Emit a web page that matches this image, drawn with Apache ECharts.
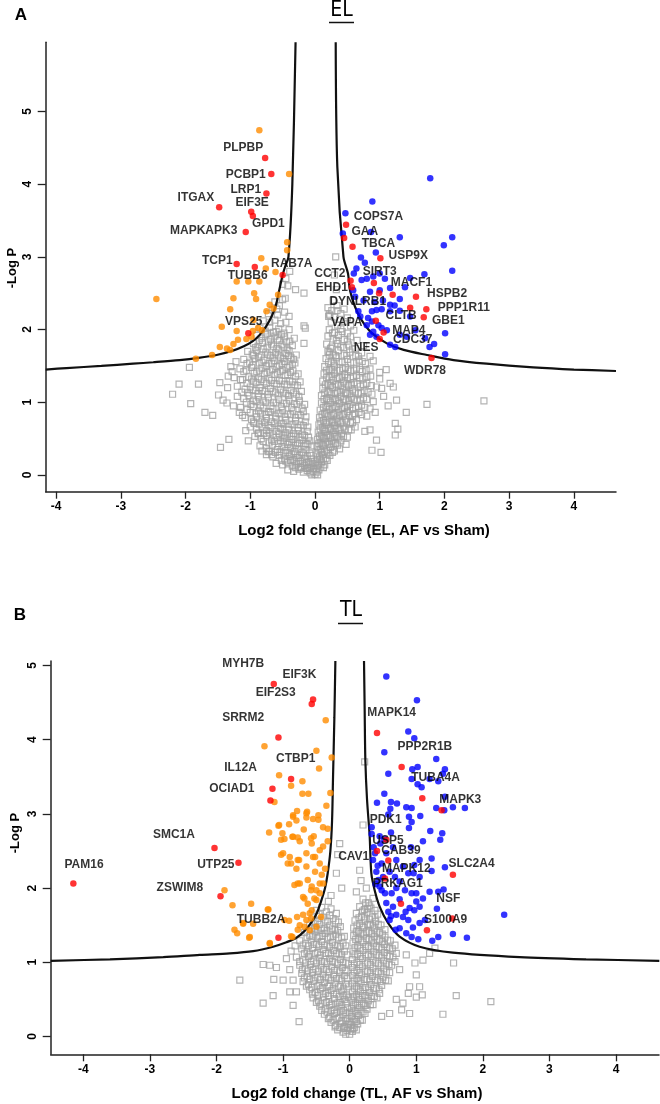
<!DOCTYPE html>
<html><head><meta charset="utf-8">
<script src="https://cdn.jsdelivr.net/npm/echarts@6/dist/echarts.min.js"></script>
<style>html,body{margin:0;padding:0;background:#fff}#c{width:660px;height:1104px}</style>
</head><body><div id="c"></div><script>
// ---------- tick labels ----------
const xTicks = [-4,-3,-2,-1,0,1,2,3,4];
const yTicksTop = [0,1,2,3,4,5];
const yTicksBottom = [0,1,2,3,4,5];

// ---------- panel A (EL) ----------
const elCurveLeft = [[-4.16,1.45],[-3.84,1.47],[-3.3,1.5],[-2.81,1.53],[-2.5,1.55],[-2.09,1.58],[-1.8,1.61],[-1.52,1.65],[-1.27,1.71],[-1.1,1.77],[-0.96,1.84],[-0.85,1.93],[-0.75,2.05],[-0.66,2.2],[-0.6,2.35],[-0.55,2.55],[-0.5,2.75],[-0.46,2.87],[-0.41,3.0],[-0.35,4.0],[-0.30,5.95]];
const elCurveRight = [[0.32,5.95],[0.345,4.24],[0.44,3.0],[0.51,2.77],[0.54,2.54],[0.62,2.31],[0.72,2.13],[0.88,1.95],[1.11,1.81],[1.37,1.72],[1.73,1.65],[2.14,1.58],[2.65,1.53],[3.37,1.48],[4.0,1.45],[4.65,1.43]];
const elOrange = [[-0.86,4.74],[-0.40,4.14],[-0.43,3.20],[-0.43,3.09],[-0.83,2.98],[-0.76,2.84],[-0.61,2.79],[-1.21,2.66],[-1.03,2.66],[-0.86,2.66],[-0.57,2.48],[-0.94,2.50],[-0.91,2.42],[-1.26,2.43],[-2.45,2.42],[-1.31,2.28],[-0.70,2.34],[-0.75,2.25],[-0.64,2.29],[-0.95,2.13],[-1.44,2.04],[-1.21,1.98],[-0.96,1.98],[-1.06,1.87],[-1.19,1.86],[-1.26,1.80],[-1.47,1.76],[-1.36,1.74],[-1.31,1.72],[-1.59,1.65],[-1.84,1.60],[-0.82,1.99],[-0.88,2.02],[-0.98,1.90]];
const elRed = [[-0.77,4.36],[-0.675,4.14],[-0.75,3.87],[-1.48,3.68],[-0.985,3.62],[-0.96,3.56],[-1.07,3.34],[-1.21,2.90],[-0.93,2.86],[-0.50,2.75],[-1.03,1.95],
[0.48,3.44],[0.45,3.26],[0.58,3.14],[1.01,2.98],[0.55,2.67],[0.57,2.58],[0.91,2.64],[0.99,2.50],[1.20,2.48],[1.56,2.45],[1.72,2.28],[1.47,2.30],[1.68,2.17],[0.94,2.12],[1.06,1.96],[1.00,1.87],[1.80,1.61]];
const elBlue = [[1.78,4.08],[0.886,3.76],[0.47,3.60],[0.43,3.32],[0.865,3.34],[1.31,3.27],[2.12,3.27],[1.99,3.16],[0.94,3.06],[0.71,2.99],[0.77,2.92],[2.12,2.81],[1.69,2.76],[1.47,2.71],[0.64,2.84],[0.60,2.77],[0.80,2.70],[0.72,2.68],[0.90,2.73],[1.00,2.77],[1.08,2.70],[1.39,2.58],[1.16,2.57],[0.85,2.52],[1.00,2.54],[1.31,2.42],[1.16,2.34],[1.23,2.33],[1.03,2.28],[0.95,2.27],[0.88,2.25],[1.31,2.26],[1.16,2.25],[0.82,2.16],[0.88,2.11],[0.80,2.06],[0.98,2.06],[1.03,2.02],[1.11,1.99],[0.90,1.97],[0.85,1.93],[0.95,1.90],[1.31,1.93],[1.42,1.90],[1.55,1.99],[2.01,1.95],[1.70,1.88],[1.84,1.80],[1.77,1.76],[1.16,1.79],[1.24,1.76],[2.01,1.66],[0.67,2.25],[0.59,2.54],[1.47,2.18],[0.75,2.40],[1.05,2.40],[0.92,2.38],[0.70,2.18],[0.62,2.45]];
const elGray = [
[-1.94,1.48],[-2.10,1.25],[-1.80,1.25],[-2.20,1.11],[-1.92,0.98],[-1.70,0.86],[-1.58,0.82],[-1.46,0.38],[-1.33,0.49],[-1.49,1.10],[-1.47,1.27],[-1.34,1.36],[-1.42,1.03],[-1.36,0.99],[-1.26,0.95],[-1.17,0.86],[-1.12,0.82],[-1.03,0.47],[-1.07,0.61],[-0.95,0.73],[-0.88,0.57],[-0.82,0.33],[-0.72,0.32],[-0.67,0.28],[-1.22,1.56],[-1.28,1.42],[-1.15,1.31],
[2.61,1.02],[1.73,0.97],[1.13,0.95],[1.41,0.86],[1.24,0.71],[1.28,0.63],[1.24,0.55],[1.02,0.31],[0.88,0.34],[1.21,1.21],[1.26,1.03],[0.93,0.86],[0.85,0.62],[0.95,0.48],[0.77,0.60],[1.16,1.26],[1.06,1.08],[1.03,1.19],[1.1,1.45],[1.0,1.32],
[-0.17,2.50],[-0.17,2.05],[-0.17,1.81],[0.21,2.18],[0.34,2.26],[0.32,3.00],[0.23,2.19],[-0.15,2.02],[0.22,1.69],[-0.59,2.28],[0.30,2.75],[0.33,2.55],[0.28,2.4],[-0.45,2.7],[-0.5,2.62],[-0.42,2.6],[-0.3,2.55],[-0.39,2.80],[-0.46,2.43],
[-0.62,2.38],[-0.55,2.33],[-0.5,2.41],[-0.66,2.27],[-0.72,2.22],[-0.58,2.2],[-0.47,2.24],[-0.4,2.18],
[-0.8,2.12],[-0.7,2.1],[-0.62,2.13],[-0.53,2.08],[-0.45,2.1],
[-0.85,2.02],[-0.77,1.98],[-0.7,2.03],[-0.64,1.96],[-0.56,2.01],[-0.48,1.95],[-0.4,2.0],
[-0.9,1.92],[-0.83,1.88],[-0.76,1.93],[-0.69,1.86],[-0.62,1.91],[-0.55,1.85],[-0.47,1.9],[-0.39,1.84],[-0.32,1.88],
[-0.95,1.81],[-0.88,1.77],[-0.81,1.82],[-0.74,1.76],[-0.67,1.8],[-0.59,1.74],[-0.51,1.79],[-0.43,1.73],[-0.35,1.78],
[-1.04,1.7],[-0.97,1.66],[-0.9,1.71],[-0.83,1.65],[-0.76,1.69],[-0.69,1.64],[-0.61,1.68],[-0.53,1.62],[-0.45,1.67],[-0.37,1.61],[-0.29,1.65],
[-1.1,1.59],[-1.01,1.55],[-0.93,1.6],[-0.86,1.54],[-0.79,1.58],[-0.71,1.53],[-0.63,1.57],[-0.55,1.51],[-0.47,1.56],[-0.39,1.5],[-0.31,1.54],
[-1.3,1.49],[-1.16,1.46],[-1.06,1.44],[-0.98,1.48],[-0.9,1.42],[-0.82,1.47],[-0.74,1.41],[-0.66,1.45],[-0.58,1.4],[-0.5,1.44],[-0.42,1.38],[-0.34,1.43],[-0.26,1.39],
[-1.25,1.34],[-1.12,1.31],[-1.02,1.35],[-0.95,1.29],[-0.87,1.33],[-0.79,1.28],[-0.71,1.32],[-0.63,1.26],[-0.55,1.3],[-0.47,1.25],[-0.39,1.29],[-0.31,1.24],[-0.23,1.28],
[-1.35,1.2],[-1.2,1.22],[-1.08,1.18],[-1.0,1.21],[-0.92,1.16],[-0.85,1.2],[-0.77,1.15],[-0.69,1.19],[-0.61,1.13],[-0.53,1.17],[-0.45,1.12],[-0.37,1.16],[-0.29,1.11],[-0.21,1.15],
[-1.2,1.08],[-1.1,1.05],[-1.02,1.09],[-0.95,1.03],[-0.87,1.07],[-0.8,1.02],[-0.72,1.06],[-0.64,1.0],[-0.56,1.04],[-0.48,0.99],[-0.4,1.03],[-0.32,0.98],[-0.24,1.02],[-0.16,0.97],
[-1.15,0.93],[-1.05,0.9],[-0.95,0.94],[-0.87,0.88],[-0.8,0.92],[-0.72,0.87],[-0.65,0.91],[-0.57,0.85],[-0.5,0.89],[-0.42,0.84],[-0.34,0.88],[-0.26,0.83],[-0.18,0.87],
[-1.08,0.79],[-0.98,0.76],[-0.9,0.8],[-0.82,0.74],[-0.75,0.78],[-0.67,0.73],[-0.6,0.77],[-0.52,0.71],[-0.45,0.75],[-0.37,0.7],[-0.3,0.74],[-0.22,0.69],[-0.15,0.73],
[-1.0,0.66],[-0.9,0.63],[-0.82,0.67],[-0.75,0.61],[-0.68,0.65],[-0.6,0.6],[-0.53,0.64],[-0.46,0.58],[-0.4,0.62],[-0.33,0.57],[-0.26,0.61],[-0.19,0.56],[-0.12,0.6],
[-0.93,0.53],[-0.83,0.5],[-0.75,0.54],[-0.67,0.48],[-0.6,0.52],[-0.53,0.47],[-0.47,0.51],[-0.4,0.45],[-0.34,0.49],[-0.27,0.44],[-0.2,0.48],[-0.14,0.43],[-0.08,0.47],
[-0.85,0.4],[-0.75,0.37],[-0.66,0.41],[-0.58,0.35],[-0.51,0.39],[-0.45,0.34],[-0.38,0.38],[-0.32,0.32],[-0.26,0.36],[-0.2,0.31],[-0.14,0.35],[-0.08,0.3],
[-0.75,0.28],[-0.65,0.25],[-0.55,0.27],[-0.47,0.22],[-0.4,0.26],[-0.34,0.21],[-0.28,0.24],[-0.22,0.19],[-0.16,0.23],[-0.1,0.18],[-0.05,0.22],
[-0.6,0.16],[-0.5,0.14],[-0.42,0.17],[-0.35,0.12],[-0.28,0.15],[-0.22,0.1],[-0.16,0.13],[-0.11,0.09],[-0.06,0.12],
[-0.42,0.07],[-0.33,0.05],[-0.25,0.08],[-0.18,0.04],[-0.12,0.06],[-0.07,0.03],[-0.03,0.05],[-0.05,0.0],[0.0,0.01],[0.04,0.0],
[0.2,2.3],[0.34,2.33],[0.45,2.28],[0.22,2.21],[0.3,2.17],[0.4,2.22],[0.5,2.16],[0.25,2.1],[0.35,2.06],[0.45,2.11],[0.55,2.05],
[0.22,2.0],[0.3,1.96],[0.4,2.01],[0.5,1.95],[0.6,1.99],[0.2,1.91],[0.28,1.87],[0.36,1.92],[0.45,1.86],[0.55,1.9],[0.65,1.85],
[0.18,1.8],[0.26,1.76],[0.35,1.81],[0.44,1.75],[0.52,1.79],[0.62,1.74],[0.75,1.78],
[0.2,1.7],[0.28,1.66],[0.36,1.71],[0.45,1.65],[0.54,1.69],[0.63,1.64],[0.72,1.68],[0.85,1.63],
[0.17,1.6],[0.25,1.56],[0.33,1.61],[0.42,1.55],[0.5,1.59],[0.6,1.54],[0.68,1.58],[0.78,1.53],[0.9,1.57],
[0.15,1.49],[0.22,1.45],[0.3,1.5],[0.38,1.44],[0.47,1.48],[0.55,1.43],[0.64,1.47],[0.73,1.42],[0.85,1.46],[1.0,1.41],
[0.14,1.39],[0.22,1.35],[0.3,1.4],[0.38,1.34],[0.46,1.38],[0.55,1.33],[0.64,1.37],[0.74,1.32],[0.86,1.36],
[0.12,1.29],[0.2,1.25],[0.28,1.3],[0.36,1.24],[0.44,1.28],[0.52,1.23],[0.6,1.27],[0.7,1.22],[0.8,1.26],[0.95,1.21],
[0.12,1.19],[0.2,1.15],[0.27,1.2],[0.35,1.14],[0.43,1.18],[0.5,1.13],[0.58,1.17],[0.67,1.12],[0.76,1.16],[0.88,1.11],
[0.1,1.09],[0.18,1.05],[0.25,1.1],[0.32,1.04],[0.4,1.08],[0.48,1.03],[0.56,1.07],[0.65,1.02],[0.75,1.06],[0.9,1.01],
[0.1,0.99],[0.17,0.95],[0.24,1.0],[0.31,0.94],[0.38,0.98],[0.46,0.93],[0.54,0.97],[0.63,0.92],[0.72,0.96],[0.85,0.91],
[0.08,0.89],[0.15,0.85],[0.22,0.9],[0.29,0.84],[0.36,0.88],[0.43,0.83],[0.5,0.87],[0.58,0.82],[0.68,0.86],[0.8,0.81],
[0.07,0.79],[0.13,0.75],[0.2,0.8],[0.27,0.74],[0.33,0.78],[0.4,0.73],[0.47,0.77],[0.55,0.72],[0.64,0.76],
[0.06,0.69],[0.12,0.65],[0.18,0.7],[0.24,0.64],[0.3,0.68],[0.37,0.63],[0.44,0.67],[0.52,0.62],[0.62,0.66],
[0.05,0.59],[0.1,0.55],[0.16,0.6],[0.22,0.54],[0.28,0.58],[0.34,0.53],[0.41,0.57],[0.5,0.52],
[0.04,0.49],[0.09,0.45],[0.14,0.5],[0.2,0.44],[0.26,0.48],[0.32,0.43],[0.4,0.47],[0.48,0.42],
[0.03,0.39],[0.08,0.35],[0.13,0.4],[0.18,0.34],[0.24,0.38],[0.3,0.33],[0.38,0.36],
[0.03,0.29],[0.07,0.25],[0.12,0.28],[0.17,0.23],[0.23,0.27],[0.02,0.19],[0.06,0.15],[0.1,0.18],[0.15,0.14],[0.02,0.09],[0.06,0.07]
];
const elGrayDense = [
[-0.74,1.95],[-0.6,1.97],[-0.52,1.93],[-0.86,1.85],[-0.72,1.83],[-0.58,1.87],[-0.44,1.83],
[-0.92,1.75],[-0.8,1.73],[-0.64,1.77],[-0.56,1.72],[-0.48,1.76],[-0.4,1.71],
[-0.95,1.64],[-0.87,1.62],[-0.73,1.66],[-0.65,1.61],[-0.57,1.65],[-0.49,1.6],[-0.41,1.64],[-0.33,1.59],
[-1.05,1.53],[-0.96,1.51],[-0.82,1.55],[-0.75,1.5],[-0.67,1.54],[-0.59,1.49],[-0.51,1.53],[-0.43,1.48],[-0.35,1.52],
[-1.1,1.42],[-0.94,1.4],[-0.86,1.44],[-0.78,1.39],[-0.7,1.43],[-0.62,1.38],[-0.54,1.42],[-0.46,1.37],[-0.38,1.41],[-0.3,1.36],
[-1.05,1.26],[-0.98,1.32],[-0.91,1.27],[-0.83,1.31],[-0.75,1.26],[-0.67,1.3],[-0.59,1.25],[-0.51,1.29],[-0.43,1.24],[-0.35,1.28],[-0.27,1.23],
[-1.13,1.14],[-1.04,1.13],[-0.96,1.17],[-0.88,1.12],[-0.81,1.16],[-0.73,1.11],[-0.65,1.15],[-0.57,1.1],[-0.49,1.14],[-0.41,1.09],[-0.33,1.13],[-0.25,1.08],
[-1.06,1.0],[-0.99,0.97],[-0.91,1.01],[-0.84,0.96],[-0.76,1.0],[-0.68,0.95],[-0.6,0.99],[-0.52,0.94],[-0.44,0.98],[-0.36,0.93],[-0.28,0.97],[-0.2,0.92],
[-1.0,0.86],[-0.91,0.84],[-0.84,0.85],[-0.76,0.83],[-0.69,0.86],[-0.61,0.81],[-0.54,0.84],[-0.46,0.8],[-0.38,0.83],[-0.3,0.79],[-0.22,0.82],[-0.14,0.8],
[-0.94,0.71],[-0.86,0.7],[-0.78,0.72],[-0.71,0.68],[-0.63,0.71],[-0.56,0.67],[-0.49,0.7],[-0.41,0.66],[-0.34,0.69],[-0.26,0.65],[-0.18,0.68],[-0.11,0.66],
[-0.87,0.58],[-0.79,0.57],[-0.71,0.58],[-0.64,0.55],[-0.56,0.57],[-0.49,0.54],[-0.43,0.56],[-0.36,0.53],[-0.3,0.55],[-0.23,0.52],[-0.16,0.54],[-0.1,0.52],
[-0.8,0.46],[-0.71,0.44],[-0.63,0.46],[-0.56,0.43],[-0.49,0.45],[-0.42,0.42],[-0.36,0.44],[-0.3,0.41],[-0.24,0.43],[-0.17,0.4],[-0.11,0.42],[-0.05,0.4],
[-0.7,0.33],[-0.61,0.31],[-0.54,0.32],[-0.48,0.3],[-0.42,0.31],[-0.36,0.28],[-0.3,0.3],[-0.24,0.27],[-0.18,0.29],[-0.12,0.26],[-0.06,0.27],
[-0.52,0.2],[-0.45,0.19],[-0.38,0.2],[-0.31,0.18],[-0.25,0.19],[-0.19,0.16],[-0.13,0.17],[-0.08,0.15],[-0.03,0.16],
[-0.3,0.1],[-0.22,0.11],[-0.14,0.09],[-0.09,0.1],[-0.02,0.09],[0.02,0.04],
[0.26,2.26],[0.38,2.14],[0.27,1.95],[0.42,1.97],[0.33,1.85],[0.5,1.84],[0.24,1.74],[0.4,1.76],[0.58,1.73],
[0.22,1.65],[0.32,1.64],[0.49,1.64],[0.67,1.63],[0.21,1.55],[0.29,1.54],[0.37,1.56],[0.55,1.55],[0.73,1.56],
[0.18,1.44],[0.26,1.45],[0.34,1.44],[0.43,1.46],[0.51,1.45],[0.6,1.44],[0.69,1.45],[0.79,1.44],
[0.18,1.34],[0.26,1.35],[0.34,1.33],[0.42,1.35],[0.5,1.34],[0.59,1.35],[0.69,1.34],[0.8,1.35],
[0.16,1.24],[0.24,1.23],[0.32,1.25],[0.4,1.23],[0.48,1.25],[0.56,1.24],[0.65,1.25],[0.75,1.24],[0.87,1.23],
[0.15,1.13],[0.23,1.14],[0.31,1.12],[0.39,1.14],[0.47,1.13],[0.54,1.12],[0.62,1.14],[0.71,1.13],[0.82,1.14],
[0.14,1.04],[0.21,1.03],[0.28,1.05],[0.36,1.02],[0.44,1.04],[0.52,1.02],[0.6,1.04],[0.7,1.03],[0.8,1.04],
[0.13,0.93],[0.2,0.94],[0.27,0.92],[0.34,0.94],[0.42,0.92],[0.5,0.94],[0.58,0.92],[0.67,0.94],[0.77,0.93],
[0.11,0.83],[0.18,0.84],[0.25,0.82],[0.31,0.84],[0.38,0.82],[0.45,0.84],[0.53,0.82],[0.61,0.84],[0.72,0.83],
[0.09,0.73],[0.16,0.72],[0.22,0.74],[0.29,0.72],[0.35,0.74],[0.42,0.72],[0.49,0.73],[0.58,0.72],
[0.08,0.63],[0.14,0.62],[0.2,0.64],[0.26,0.62],[0.32,0.64],[0.39,0.62],[0.46,0.63],[0.56,0.62],
[0.07,0.53],[0.12,0.52],[0.18,0.54],[0.24,0.52],[0.3,0.53],[0.37,0.51],[0.44,0.53],
[0.06,0.43],[0.11,0.42],[0.16,0.44],[0.22,0.42],[0.28,0.43],[0.35,0.41],
[0.05,0.33],[0.1,0.31],[0.15,0.32],[0.2,0.3],[0.27,0.31],
[0.04,0.22],[0.08,0.21],[0.13,0.22],[0.19,0.2],[0.04,0.13],[0.09,0.11],[0.13,0.1]
];
const elLabelNames = ['PLPBP','PCBP1','LRP1','ITGAX','EIF3E','GPD1','MAPKAPK3','TCP1','TUBB6','RAB7A','VPS25','COPS7A','GAA','TBCA','USP9X','CCT2','SIRT3','EHD1','MACF1','HSPB2','DYNLRB1','PPP1R11','CLTB','GBE1','VAPA','MAP4','CDC37','NES','WDR78'];
const elLabelX = [-1.11,-1.07,-1.07,-1.84,-0.97,-0.72,-1.72,-1.51,-1.04,-0.36,-1.10,0.98,0.77,0.98,1.44,0.23,1.00,0.26,1.49,2.04,0.66,2.30,1.33,2.06,0.49,1.45,1.51,0.79,1.70];
const elLabelY = [4.50,4.13,3.92,3.82,3.75,3.45,3.36,2.95,2.74,2.90,2.11,3.55,3.34,3.18,3.02,2.77,2.80,2.57,2.64,2.49,2.38,2.30,2.19,2.12,2.10,1.99,1.86,1.75,1.44];

// ---------- panel B (TL) ----------
const tlCurveLeft = [[-4.49,1.02],[-3.6,1.04],[-2.8,1.07],[-2.25,1.10],[-1.8,1.12],[-1.45,1.15],[-1.15,1.21],[-0.95,1.27],[-0.80,1.33],[-0.68,1.42],[-0.58,1.53],[-0.50,1.65],[-0.43,1.82],[-0.37,2.0],[-0.33,2.2],[-0.29,2.5],[-0.265,2.9],[-0.25,3.5],[-0.23,4.3],[-0.215,5.06]];
const tlCurveRight = [[0.215,5.06],[0.225,4.4],[0.235,3.73],[0.26,3.2],[0.30,2.7],[0.325,2.2],[0.375,1.97],[0.45,1.75],[0.575,1.53],[0.75,1.345],[1.05,1.21],[1.55,1.13],[2.55,1.07],[3.55,1.04],[4.65,1.02]];
const tlOrange = [[-0.36,4.26],[-1.28,3.91],[-0.50,3.85],[-0.46,3.61],[-0.27,3.76],[-1.06,3.52],[-0.88,3.38],[-0.71,3.44],[-0.71,3.27],[-0.62,3.27],[-0.29,3.28],[-1.13,3.16],[-0.35,3.11],[-0.79,3.04],[-0.64,3.03],[-0.85,2.96],[-0.65,2.95],[-0.55,2.93],[-0.47,2.92],[-0.80,2.91],[-0.91,2.86],[-1.07,2.84],[-0.40,2.82],[-0.33,2.80],[-0.69,2.79],[-1.21,2.75],[-1.01,2.74],[-0.86,2.69],[-0.78,2.68],[-0.58,2.67],[-0.54,2.70],[-0.98,2.66],
[-1.03,2.45],[-0.93,2.33],[-0.76,2.38],[-0.65,2.47],[-0.52,2.42],[-0.45,2.51],[-0.83,2.04],[-0.78,2.06],[-0.68,1.86],[-0.58,1.97],[-0.53,1.86],[-0.45,1.93],[-0.40,2.06],[-0.70,1.64],[-0.58,1.59],[-0.50,1.48],[-0.43,1.61],[-0.60,1.43],
[-1.88,1.97],[-1.76,1.77],[-1.48,1.79],[-1.22,1.71],[-1.45,1.52],[-1.60,1.52],[-1.73,1.44],[-1.69,1.39],[-1.51,1.33],[-1.20,1.25],[-0.98,1.57],[-0.86,1.34],[-0.75,1.50],
[-1.06,2.85],[-0.85,2.98],[-0.65,3.01],[-0.47,2.98],[-1.03,2.65],[-0.85,2.69],[-0.75,2.63],[-0.57,2.60],[-0.40,2.56],[-0.33,2.63],[-1.00,2.47],[-0.90,2.42],[-0.78,2.38],[-0.55,2.42],[-0.45,2.33],[-0.37,2.26],[-0.88,2.33],[-0.80,2.26],[-0.65,2.29],[-0.52,2.22],[-0.42,2.18],[-0.75,2.06],[-0.63,2.11],[-0.57,2.02],[-0.50,1.97],[-0.45,2.06],[-0.70,1.88],[-0.63,1.79],[-0.57,1.70],[-0.50,1.84],[-0.79,1.61],[-0.65,1.57],[-0.60,1.66],[-0.88,1.35],[-0.78,1.44],[-0.68,1.48],[-1.23,1.71],[-0.91,1.56],[-1.60,1.53],[-1.50,1.34],[-1.20,1.26]];
const tlRed = [[-1.14,4.75],[-0.55,4.54],[-0.57,4.48],[-1.07,4.03],[-0.88,3.47],[-1.16,3.34],[-1.19,3.18],[-2.03,2.54],[-1.67,2.34],[-1.94,1.89],[-4.15,2.06],[-1.07,1.33],
[0.41,4.09],[0.78,3.63],[1.09,3.21],[1.38,3.05],[0.55,2.65],[0.41,2.50],[0.58,2.37],[1.55,2.18],[0.53,2.13],[0.77,1.79],[1.54,1.59],[1.16,1.43]];
const tlBlue = [[0.55,4.85],[1.01,4.53],[0.88,4.11],[0.97,4.02],[0.52,3.83],[1.30,3.74],[0.94,3.60],[1.02,3.63],[1.43,3.60],[1.40,3.54],[0.58,3.54],[1.33,3.44],[0.93,3.47],[1.02,3.40],[1.08,3.36],[1.20,3.47],[0.52,3.27],[1.43,3.23],[0.41,3.15],[0.62,3.16],[0.71,3.14],[0.85,3.09],[0.93,3.08],[0.61,3.07],[1.30,3.08],[1.55,3.09],[1.73,3.08],[1.42,3.05],[0.58,2.99],[1.06,2.97],[0.89,2.96],[0.93,2.89],[0.89,2.81],[0.33,2.82],[1.21,2.77],[1.39,2.74],[0.62,2.75],[0.33,2.73],[1.36,2.65],[1.10,2.63],[0.45,2.70],[0.52,2.66],
[1.23,2.40],[1.43,2.28],[0.97,2.31],[0.88,2.20],[0.96,2.20],[1.05,2.15],[1.23,2.23],[0.60,2.22],[0.68,2.15],[0.75,2.09],[0.48,2.33],[0.40,2.22],[0.43,2.11],[0.45,2.02],[0.53,1.93],[0.63,1.93],[0.70,2.00],[0.83,1.97],[0.93,1.93],[1.00,1.93],[1.10,1.86],[1.20,1.95],[1.33,1.95],[1.41,1.98],[1.00,1.82],[0.90,1.73],[0.84,1.68],[0.97,1.70],[1.05,1.75],[0.65,1.75],[0.58,1.68],[0.70,1.64],[0.60,1.57],[0.80,1.61],[0.88,1.57],[0.75,1.46],[0.69,1.44],[0.85,1.39],[0.93,1.34],[1.03,1.31],[1.24,1.29],[1.33,1.34],[1.55,1.38],[1.76,1.33],[2.32,1.64],[1.31,1.72],[1.13,1.57],[1.05,1.53],[0.35,2.38],[0.38,2.47],[0.55,2.47],[0.70,2.38],[0.80,2.29],[0.50,2.15],[0.48,1.97],[1.05,2.38],[0.36,2.55],[0.42,2.30],[0.39,2.05],[0.65,2.55],[0.92,2.55],[0.46,2.60],[0.75,1.85],[0.55,1.80],[0.62,1.62],[0.95,1.47]];
const tlGray = [
[-0.32,1.82],[-0.28,1.9],[-0.15,2.6],[-0.18,2.45],[0.225,3.7],[0.2,2.85],[0.15,2.24],[0.17,2.1],[-0.2,2.2],[-0.12,2.0],[0.25,2.0],[0.1,1.95],
[-0.5,1.7],[-0.42,1.74],[-0.35,1.68],[-0.28,1.72],[-0.2,1.66],
[-0.55,1.6],[-0.48,1.56],[-0.4,1.61],[-0.33,1.55],[-0.25,1.59],[-0.17,1.54],
[-0.6,1.5],[-0.53,1.46],[-0.45,1.51],[-0.38,1.45],[-0.3,1.49],[-0.22,1.44],[-0.14,1.48],
[-0.68,1.4],[-0.6,1.36],[-0.52,1.41],[-0.45,1.35],[-0.37,1.39],[-0.29,1.34],[-0.21,1.38],[-0.12,1.33],
[-0.75,1.29],[-0.66,1.25],[-0.58,1.3],[-0.5,1.24],[-0.42,1.28],[-0.34,1.23],[-0.26,1.27],[-0.18,1.22],[-0.1,1.26],
[-0.72,1.18],[-0.64,1.14],[-0.56,1.19],[-0.48,1.13],[-0.4,1.17],[-0.32,1.12],[-0.24,1.16],[-0.16,1.11],[-0.08,1.15],
[-0.8,1.07],[-0.7,1.03],[-0.62,1.08],[-0.54,1.02],[-0.46,1.06],[-0.38,1.01],[-0.3,1.05],[-0.22,1.0],[-0.14,1.04],[-0.06,0.99],
[-0.75,0.96],[-0.67,0.92],[-0.59,0.97],[-0.51,0.91],[-0.43,0.95],[-0.35,0.9],[-0.27,0.94],[-0.19,0.89],[-0.11,0.93],[-0.04,0.88],
[-0.72,0.85],[-0.64,0.81],[-0.56,0.86],[-0.48,0.8],[-0.4,0.84],[-0.32,0.79],[-0.24,0.83],[-0.16,0.78],[-0.08,0.82],
[-0.7,0.74],[-0.62,0.7],[-0.54,0.75],[-0.46,0.69],[-0.38,0.73],[-0.3,0.68],[-0.22,0.72],[-0.14,0.67],[-0.06,0.71],
[-0.6,0.63],[-0.52,0.59],[-0.44,0.64],[-0.36,0.58],[-0.28,0.62],[-0.2,0.57],[-0.12,0.61],[-0.05,0.56],
[-0.55,0.52],[-0.47,0.48],[-0.39,0.53],[-0.31,0.47],[-0.23,0.51],[-0.15,0.46],[-0.08,0.5],
[-0.45,0.41],[-0.37,0.37],[-0.3,0.42],[-0.23,0.36],[-0.16,0.4],[-0.09,0.35],[-0.03,0.39],
[-0.38,0.3],[-0.3,0.26],[-0.23,0.31],[-0.16,0.25],[-0.1,0.29],[-0.04,0.24],
[-0.28,0.19],[-0.21,0.15],[-0.14,0.18],[-0.08,0.13],[-0.02,0.17],
[-0.18,0.09],[-0.1,0.06],[-0.04,0.08],[0.0,0.03],[0.04,0.07],
[0.2,1.85],[0.28,1.8],[0.35,1.86],[0.15,1.75],[0.22,1.71],[0.3,1.76],[0.38,1.7],
[0.1,1.66],[0.18,1.62],[0.26,1.67],[0.34,1.61],[0.42,1.65],
[0.08,1.56],[0.15,1.52],[0.23,1.57],[0.31,1.51],[0.39,1.55],[0.47,1.5],
[0.06,1.46],[0.13,1.42],[0.21,1.47],[0.29,1.41],[0.37,1.45],[0.45,1.4],[0.53,1.44],
[0.06,1.36],[0.13,1.32],[0.21,1.37],[0.29,1.31],[0.37,1.35],[0.45,1.3],[0.53,1.34],[0.61,1.29],
[0.05,1.26],[0.12,1.22],[0.2,1.27],[0.28,1.21],[0.36,1.25],[0.44,1.2],[0.52,1.24],[0.6,1.19],[0.68,1.23],
[0.05,1.15],[0.12,1.11],[0.2,1.16],[0.28,1.1],[0.36,1.14],[0.44,1.09],[0.52,1.13],[0.6,1.08],[0.7,1.12],
[0.04,1.04],[0.11,1.0],[0.19,1.05],[0.27,0.99],[0.35,1.03],[0.43,0.98],[0.51,1.02],[0.59,0.97],[0.68,1.01],
[0.04,0.93],[0.11,0.89],[0.19,0.94],[0.27,0.88],[0.35,0.92],[0.43,0.87],[0.51,0.91],[0.6,0.86],
[0.04,0.82],[0.11,0.78],[0.18,0.83],[0.26,0.77],[0.34,0.81],[0.42,0.76],[0.5,0.8],[0.58,0.75],
[0.04,0.71],[0.1,0.67],[0.17,0.72],[0.24,0.66],[0.32,0.7],[0.4,0.65],[0.48,0.69],
[0.04,0.6],[0.1,0.56],[0.16,0.61],[0.23,0.55],[0.3,0.59],[0.37,0.54],[0.45,0.58],
[0.03,0.49],[0.09,0.45],[0.15,0.5],[0.21,0.44],[0.28,0.48],[0.35,0.43],
[0.03,0.38],[0.08,0.34],[0.14,0.39],[0.2,0.33],[0.26,0.37],
[0.03,0.27],[0.08,0.23],[0.13,0.28],[0.19,0.22],[0.02,0.16],[0.07,0.12],[0.12,0.17],
[-1.65,0.76],[-1.30,0.45],[-1.15,0.55],[-1.14,0.77],[-1.3,0.97],[-1.2,0.96],[-1.1,0.93],[-1.0,0.76],[-0.9,0.6],[-0.8,0.6],[-0.85,0.42],[-0.76,0.2],[-0.85,0.76],[-0.9,0.9],[-0.95,1.05],[-0.88,1.15],[-0.82,1.22],
[1.56,0.99],[1.60,0.55],[2.12,0.47],[1.40,0.30],[1.2,1.12],[1.28,1.19],[1.10,1.03],[0.98,0.99],[1.0,0.83],[1.05,0.67],[1.09,0.56],[1.0,0.53],[0.9,0.67],[0.88,0.58],[0.8,0.45],[0.78,0.36],[0.9,0.31],[0.6,0.31],[0.48,0.27],[0.85,1.1],[0.75,0.9],[0.7,0.5]
];
const tlGrayDense = [
[-0.46,1.65],[-0.3,1.63],[-0.52,1.55],[-0.37,1.57],[-0.21,1.56],
[-0.57,1.45],[-0.49,1.44],[-0.42,1.46],[-0.34,1.43],[-0.26,1.45],[-0.18,1.43],
[-0.64,1.34],[-0.56,1.35],[-0.48,1.33],[-0.41,1.35],[-0.33,1.33],[-0.25,1.35],[-0.17,1.33],[-0.08,1.35],
[-0.7,1.23],[-0.62,1.22],[-0.54,1.24],[-0.46,1.22],[-0.38,1.23],[-0.3,1.21],[-0.22,1.23],[-0.14,1.21],[-0.06,1.22],
[-0.68,1.12],[-0.6,1.11],[-0.52,1.12],[-0.44,1.1],[-0.36,1.12],[-0.28,1.1],[-0.2,1.12],[-0.12,1.1],[-0.04,1.1],
[-0.75,1.01],[-0.66,0.99],[-0.58,1.01],[-0.5,0.99],[-0.42,1.01],[-0.34,0.99],[-0.26,1.01],[-0.18,0.98],[-0.1,1.0],[-0.02,0.98],
[-0.71,0.9],[-0.63,0.88],[-0.55,0.9],[-0.47,0.88],[-0.39,0.9],[-0.31,0.87],[-0.23,0.89],[-0.15,0.87],[-0.07,0.89],
[-0.68,0.79],[-0.6,0.77],[-0.52,0.79],[-0.44,0.77],[-0.36,0.79],[-0.28,0.76],[-0.2,0.78],[-0.12,0.76],[-0.04,0.78],
[-0.65,0.68],[-0.57,0.66],[-0.49,0.68],[-0.41,0.66],[-0.33,0.68],[-0.25,0.65],[-0.17,0.67],[-0.09,0.65],[-0.02,0.67],
[-0.56,0.57],[-0.48,0.55],[-0.4,0.57],[-0.32,0.55],[-0.24,0.57],[-0.16,0.54],[-0.09,0.55],[-0.02,0.53],
[-0.5,0.46],[-0.43,0.44],[-0.35,0.46],[-0.27,0.44],[-0.19,0.45],[-0.12,0.43],[-0.05,0.45],
[-0.42,0.35],[-0.34,0.33],[-0.27,0.35],[-0.2,0.33],[-0.13,0.34],[-0.06,0.32],[0.0,0.33],
[-0.32,0.24],[-0.25,0.22],[-0.19,0.24],[-0.12,0.21],[-0.06,0.22],[0.0,0.2],
[-0.22,0.13],[-0.15,0.12],[-0.09,0.11],[-0.03,0.12],[-0.06,0.03],[0.02,0.1],
[0.24,1.8],[0.32,1.73],[0.19,1.69],[0.27,1.72],[0.14,1.6],[0.22,1.61],[0.3,1.58],[0.38,1.6],
[0.11,1.5],[0.19,1.49],[0.27,1.51],[0.35,1.49],[0.43,1.51],
[0.1,1.41],[0.17,1.39],[0.25,1.41],[0.33,1.39],[0.41,1.41],[0.49,1.38],
[0.09,1.31],[0.17,1.29],[0.25,1.32],[0.33,1.29],[0.41,1.31],[0.49,1.28],[0.57,1.3],
[0.08,1.2],[0.16,1.19],[0.24,1.21],[0.32,1.19],[0.4,1.21],[0.48,1.18],[0.56,1.2],[0.64,1.18],
[0.08,1.1],[0.16,1.08],[0.24,1.1],[0.32,1.08],[0.4,1.1],[0.48,1.07],[0.56,1.09],[0.65,1.07],
[0.07,0.98],[0.15,0.97],[0.23,0.99],[0.31,0.97],[0.39,0.99],[0.47,0.96],[0.55,0.98],[0.63,0.96],
[0.07,0.87],[0.15,0.86],[0.23,0.88],[0.31,0.86],[0.39,0.87],[0.47,0.85],[0.55,0.87],
[0.07,0.76],[0.14,0.75],[0.22,0.77],[0.3,0.75],[0.38,0.76],[0.46,0.74],[0.54,0.76],
[0.07,0.65],[0.13,0.64],[0.2,0.66],[0.28,0.64],[0.36,0.65],[0.44,0.63],
[0.06,0.54],[0.13,0.53],[0.19,0.55],[0.26,0.53],[0.33,0.54],[0.41,0.52],
[0.06,0.43],[0.12,0.42],[0.18,0.44],[0.24,0.42],[0.31,0.43],
[0.05,0.32],[0.11,0.31],[0.17,0.33],[0.23,0.31],
[0.05,0.21],[0.1,0.2],[0.16,0.22],[0.05,0.11],[0.1,0.09]
];
const tlLabelNames = ['MYH7B','EIF3K','EIF2S3','SRRM2','CTBP1','IL12A','OCIAD1','SMC1A','PAM16','UTP25','ZSWIM8','TUBB2A','CAV1','SLC2A4','NSF','S100A9','CAB39','MAPK12','PRKAG1','MAPK14','PPP2R1B','TUBA4A','MAPK3','PDK1','USP5'];
const tlLabelX = [-1.60,-0.755,-1.11,-1.60,-0.81,-1.64,-1.77,-2.64,-3.99,-2.01,-2.55,-1.33,0.06,1.83,1.48,1.44,0.77,0.85,0.72,0.63,1.13,1.29,1.66,0.54,0.575];
const tlLabelY = [5.03,4.87,4.63,4.30,3.75,3.62,3.34,2.72,2.31,2.32,2.01,1.58,2.42,2.33,1.86,1.58,2.50,2.26,2.06,4.36,3.90,3.49,3.19,2.92,2.64];

// ---------- build ----------
const FONT = '"Liberation Sans", Arial, sans-serif';
const chart = echarts.init(document.getElementById('c'), null, {renderer: 'canvas'});

function xAx(gi, min, max) {
  return {type:'value', gridIndex:gi, min:min, max:max,
    axisLine:{show:true, onZero:false, lineStyle:{color:'#222', width:1.5}},
    axisTick:{show:true, customValues:xTicks, length:7, lineStyle:{color:'#222', width:1.3}},
    axisLabel:{customValues:xTicks, color:'#000', fontFamily:FONT, fontWeight:'bold', fontSize:12, margin:9},
    splitLine:{show:false}};
}
function yAx(gi, min, max, ticks) {
  return {type:'value', gridIndex:gi, min:min, max:max,
    axisLine:{show:true, onZero:false, lineStyle:{color:'#222', width:1.5}},
    axisTick:{show:true, customValues:ticks, length:8, lineStyle:{color:'#222', width:1.3}},
    axisLabel:{customValues:ticks, rotate:90, color:'#000', fontFamily:FONT, fontWeight:'bold', fontSize:12, margin:12},
    splitLine:{show:false}};
}
function panelSeries(i, gray, cl, cr, orange, red, blue, names, lx, ly) {
  const base = {xAxisIndex:i, yAxisIndex:i};
  const dot = (data, color) => Object.assign({type:'scatter', data:data, symbol:'circle', symbolSize:6.5,
    itemStyle:{color:color}, z:4, silent:true}, base);
  return [
    Object.assign({type:'scatter', data:gray, symbol:'rect', symbolSize:6, large:false,
      itemStyle:{color:'rgba(255,255,255,0)', borderColor:'#a0a0a0', borderWidth:1.2}, z:2, silent:true}, base),
    Object.assign({type:'line', data:cl, showSymbol:false, smooth:0.3, lineStyle:{color:'#111', width:2.2}, z:3, silent:true}, base),
    Object.assign({type:'line', data:cr, showSymbol:false, smooth:0.3, lineStyle:{color:'#111', width:2.2}, z:3, silent:true}, base),
    dot(orange, '#ff8c00'),
    dot(blue, '#0000ff'),
    dot(red, '#ff0000'),
    Object.assign({type:'scatter', symbolSize:0, z:6, silent:true,
      data:names.map((n, k) => ({name:n, value:[lx[k], ly[k]]})),
      itemStyle:{color:'rgba(0,0,0,0)'},
      label:{show:true, position:'inside', formatter:p => p.name, color:'#000', fontFamily:FONT, fontWeight:'bold', fontSize:12}}, base)
  ];
}

const txt = (o) => ({type:'text', silent:true, style:Object.assign({fill:'#000', fontFamily:FONT}, o.style), x:o.x, y:o.y, rotation:o.rotation||0});

chart.setOption({
  animation:false,
  backgroundColor:'#fff',
  grid:[
    {left:45.7, top:42.3, width:570.3, height:449.4},
    {left:50.7, top:661, width:608.3, height:393.3}
  ],
  xAxis:[xAx(0, -4.16, 4.65), xAx(1, -4.49, 4.645)],
  yAxis:[yAx(0, -0.23, 5.95, yTicksTop), yAx(1, -0.24, 5.06, yTicksBottom)],
  series:[].concat(
    panelSeries(0, elGray.concat(elGrayDense), elCurveLeft, elCurveRight, elOrange, elRed, elBlue, elLabelNames, elLabelX, elLabelY),
    panelSeries(1, tlGray.concat(tlGrayDense), tlCurveLeft, tlCurveRight, tlOrange, tlRed, tlBlue, tlLabelNames, tlLabelX, tlLabelY)
  ),
  graphic:[
    txt({x:21, y:15, style:{text:'A', fontSize:17, fontWeight:'bold', textAlign:'center', textVerticalAlign:'middle'}}),
    txt({x:20, y:615, style:{text:'B', fontSize:17, fontWeight:'bold', textAlign:'center', textVerticalAlign:'middle'}}),
    txt({x:341.5, y:11, style:{text:'EL', fontSize:21, fontFamily:'"Liberation Sans Narrow","DejaVu Sans Condensed","Liberation Sans",sans-serif', textAlign:'center', textVerticalAlign:'middle'}}),
    {type:'line', silent:true, shape:{x1:329, y1:22.5, x2:354, y2:22.5}, style:{stroke:'#111', lineWidth:1.5}},
    txt({x:351, y:611, style:{text:'TL', fontSize:21, fontFamily:'"Liberation Sans Narrow","DejaVu Sans Condensed","Liberation Sans",sans-serif', textAlign:'center', textVerticalAlign:'middle'}}),
    {type:'line', silent:true, shape:{x1:338, y1:623.5, x2:363, y2:623.5}, style:{stroke:'#111', lineWidth:1.5}},
    txt({x:364, y:531, style:{text:'Log2 fold change (EL, AF vs Sham)', fontSize:15, fontWeight:'bold', textAlign:'center', textVerticalAlign:'middle'}}),
    txt({x:357, y:1093.5, style:{text:'Log2 fold change (TL, AF vs Sham)', fontSize:15, fontWeight:'bold', textAlign:'center', textVerticalAlign:'middle'}}),
    txt({x:12, y:268, rotation:Math.PI/2, style:{text:'-Log P', fontSize:13, fontWeight:'bold', textAlign:'center', textVerticalAlign:'middle'}}),
    txt({x:15, y:833, rotation:Math.PI/2, style:{text:'-Log P', fontSize:13, fontWeight:'bold', textAlign:'center', textVerticalAlign:'middle'}})
  ]
});
</script></body></html>
